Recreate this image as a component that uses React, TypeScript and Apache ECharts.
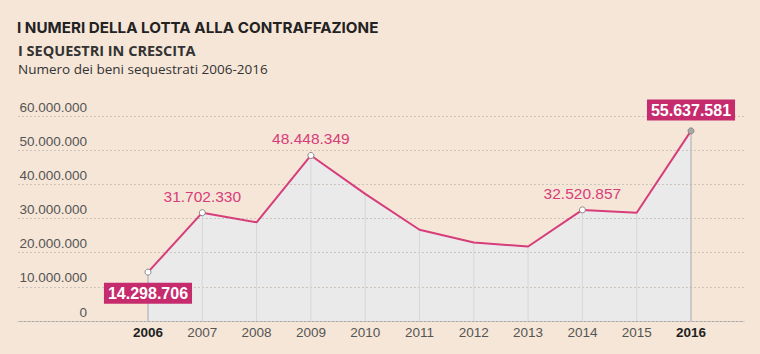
import React, { useEffect, useRef } from "react";
import * as echarts from "echarts";

const years = [2006, 2007, 2008, 2009, 2010, 2011, 2012, 2013, 2014, 2015, 2016];
const values = [14298706, 31702330, 28900000, 48448349, 37200000, 26700000, 23000000, 21800000, 32520857, 31700000, 55637581];
const labelledYears = [2007, 2009, 2014];
const boxedYears = [2006, 2016];
const yTicks = [0, 10000000, 20000000, 30000000, 40000000, 50000000, 60000000];

const BG = "#f6e6d7";
const PINK = "#d63d7a";
const BOX = "#c62c6d";

function fmt(v: number): string {
  return String(Math.round(v)).replace(/\B(?=(\d{3})+(?!\d))/g, ".");
}

export default function App() {
  const ref = useRef<HTMLDivElement>(null);
  useEffect(() => {
    if (!ref.current) return;
    document.body.style.margin = "0";
    document.body.style.background = BG;
    const chart = echarts.init(ref.current, null, { renderer: "svg" });

    const lineData = years.map((y, i) => {
      const v = values[i];
      const item: any = { value: [y, v], symbol: "none" };
      if (labelledYears.includes(y)) {
        item.symbol = "circle";
        item.label = {
          show: true,
          position: "top",
          distance: 5,
          color: PINK,
          fontSize: 15.5,
          fontFamily: "Liberation Sans, Arial, sans-serif",
          formatter: () => fmt(v),
        };
      }
      if (boxedYears.includes(y)) {
        item.symbol = "circle";
        item.itemStyle = y === 2016 ? { color: "#a8a8a8", borderColor: "#888" } : undefined;
        item.label = {
          show: true,
          position: y === 2016 ? "top" : "bottom",
          distance: 7,
          color: "#fff",
          fontSize: 16,
          fontWeight: "bold",
          fontFamily: "Liberation Sans, Arial, sans-serif",
          backgroundColor: BOX,
          padding: [3, 4, 2, 4],
          formatter: () => fmt(v),
        };
      }
      return item;
    });

    const dropData = years.map((y, i) => ({
      value: [y, values[i]],
      itemStyle: {
        color: boxedYears.includes(y) ? "#a9a9a9" : "#d7d7db",
      },
    }));

    chart.setOption({
      animation: false,
      backgroundColor: BG,
      title: [
        {
          text: "I NUMERI DELLA LOTTA ALLA CONTRAFFAZIONE",
          left: 17,
          top: 20,
          padding: 0,
          textStyle: { fontSize: 15.2, fontWeight: "bold", color: "#222", fontFamily: "Inter, sans-serif" },
        },
        {
          text: "I SEQUESTRI IN CRESCITA",
          left: 18,
          top: 43,
          padding: 0,
          textStyle: { fontSize: 14.5, fontWeight: "bold", color: "#333", fontFamily: "Open Sans, sans-serif" },
        },
        {
          text: "Numero dei beni sequestrati 2006-2016",
          left: 18,
          top: 62,
          padding: 0,
          textStyle: { fontSize: 13.5, fontWeight: "normal", color: "#333", fontFamily: "Open Sans, sans-serif" },
        },
      ],
      grid: { left: 18, right: 16, top: 116, bottom: 33 },
      xAxis: {
        type: "value",
        min: 2003.606,
        max: 2016.976,
        splitLine: { show: false },
        axisTick: { show: false },
        axisLine: { show: true, lineStyle: { color: "#a9a9a9", width: 1 } },
        axisLabel: {
          customValues: years,
          margin: 4,
          fontSize: 13.5,
          fontFamily: "Liberation Sans, Arial, sans-serif",
          formatter: (v: number) => (boxedYears.includes(v) ? "{b|" + v + "}" : "{n|" + v + "}"),
          rich: {
            b: { fontWeight: "bold", color: "#222", fontSize: 13.5, fontFamily: "Liberation Sans, Arial, sans-serif" },
            n: { color: "#555", fontSize: 13.5, fontFamily: "Liberation Sans, Arial, sans-serif" },
          },
        },
      },
      yAxis: {
        type: "value",
        min: 0,
        max: 60000000,
        interval: 10000000,
        z: 1.5,
        axisLine: { show: false },
        axisTick: { show: false },
        splitLine: { show: true, lineStyle: { color: "#cdc4bb", type: [2, 2], width: 1 } },
        axisLabel: {
          customValues: yTicks,
          inside: true,
          align: "right",
          verticalAlign: "bottom",
          margin: 69,
          padding: [0, 0, 2, 0],
          color: "#555",
          fontSize: 13.5,
          fontFamily: "Liberation Sans, Arial, sans-serif",
          formatter: (v: number) => fmt(v),
        },
      },
      series: [
        {
          type: "line",
          z: 1,
          data: years.map((y, i) => [y, values[i]]),
          symbol: "none",
          lineStyle: { width: 0 },
          areaStyle: { color: "#e8e9ec", opacity: 0.93 },
          silent: true,
        },
        {
          type: "bar",
          z: 2,
          data: dropData,
          barWidth: 1,
          silent: true,
        },
        {
          type: "line",
          z: 3,
          data: lineData,
          symbolSize: 6,
          itemStyle: { color: "#fff", borderColor: "#888", borderWidth: 1 },
          lineStyle: { color: PINK, width: 2 },
          label: { show: false },
        },
      ],
    });
    return () => chart.dispose();
  }, []);
  return <div ref={ref} style={{ position: "fixed", left: 0, top: 0, width: 760, height: 354 }} />;
}
